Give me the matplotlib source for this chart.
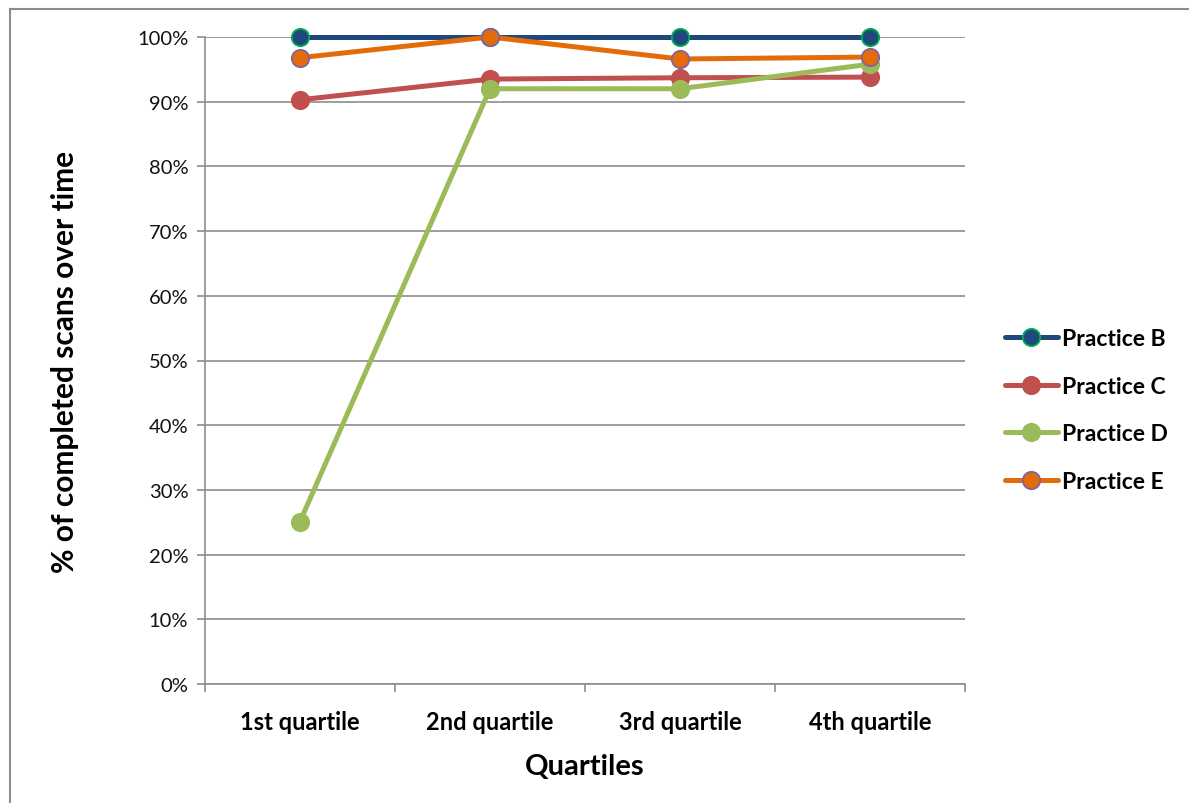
import matplotlib
matplotlib.use("Agg")
import matplotlib.pyplot as plt
from matplotlib.lines import Line2D
from matplotlib.ticker import FixedLocator, PercentFormatter

plt.rcParams['font.family'] = ['Lato', 'DejaVu Sans']

categories = ["1st quartile", "2nd quartile", "3rd quartile", "4th quartile"]
practice_b = [100.0, 100.0, 100.0, 100.0]
practice_c = [90.3, 93.5, 93.7, 93.8]
practice_d = [25.1, 92.0, 92.0, 95.8]
practice_e = [96.8, 100.0, 96.6, 96.9]

series = [
    ("Practice B", practice_b, "#1F497D", "#1F497D", "#00B050"),
    ("Practice C", practice_c, "#C0504D", "#C0504D", "#C0504D"),
    ("Practice D", practice_d, "#9BBB59", "#9BBB59", "#9BBB59"),
    ("Practice E", practice_e, "#E36C09", "#E36C09", "#8064A2"),
]

fig = plt.figure(figsize=(11.89, 8.04), dpi=100)
ax = fig.add_axes([205 / 1189, (804 - 685) / 804, 760 / 1189, 647 / 804])

x = list(range(len(categories)))
for name, vals, lc, fc, ec in series:
    ax.plot(x, vals, color=lc, lw=3.6, marker="o", markersize=12.5,
            markerfacecolor=fc, markeredgecolor=ec, markeredgewidth=1.3,
            label=name, solid_capstyle="round", zorder=3, clip_on=False)

ax.set_xlim(-0.5, len(categories) - 0.5)
ax.set_ylim(0, 100)
ax.yaxis.set_major_locator(FixedLocator(range(0, 101, 10)))
ax.yaxis.set_major_formatter(PercentFormatter(decimals=0))
ax.set_xticks(x)
ax.set_xticklabels(categories, fontsize=17, fontweight="bold")
ax.xaxis.set_minor_locator(FixedLocator([i - 0.5 for i in range(len(categories) + 1)]))
ax.tick_params(axis="x", which="major", length=0, pad=19)
ax.tick_params(axis="x", which="minor", length=6, color="#8C8C8C", width=1.2)
ax.tick_params(axis="y", length=6, color="#8C8C8C", width=1.2, labelsize=14.5, pad=6)
for lbl in ax.get_yticklabels():
    lbl.set_color("#111111")

ax.grid(axis="y", color="#8C8C8C", lw=1.2, zorder=0)
ax.set_axisbelow(True)
for side in ("top", "right"):
    ax.spines[side].set_visible(False)
for side in ("left", "bottom"):
    ax.spines[side].set_color("#8C8C8C")
    ax.spines[side].set_linewidth(1.2)

ax.set_xlabel("Quartiles", fontsize=21, fontweight="bold", labelpad=14)
ax.set_ylabel("% of completed scans over time", fontsize=21.5, fontweight="bold", labelpad=42)

leg = ax.legend(loc="center left", bbox_to_anchor=(1.0526, 0.4235), frameon=False,
                prop={"size": 16.5, "weight": "bold"}, handlelength=2.3,
                handletextpad=0.2, labelspacing=1.15, borderaxespad=0, borderpad=0)

# outer chart frame
fig.add_artist(Line2D([10 / 1189, 10 / 1189], [0, 1 - 10 / 804], transform=fig.transFigure,
                      color="#8C8C8C", lw=1.5))
fig.add_artist(Line2D([10 / 1189, 1], [1 - 10 / 804, 1 - 10 / 804], transform=fig.transFigure,
                      color="#8C8C8C", lw=1.5))

fig.savefig("out.png", dpi=100)
